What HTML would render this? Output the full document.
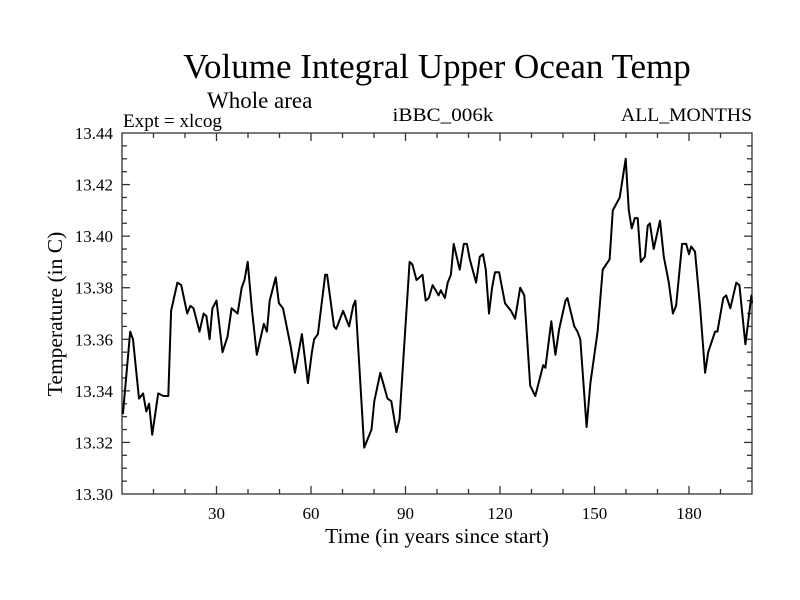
<!DOCTYPE html>
<html><head><meta charset="utf-8"><style>
body{margin:0;background:#fff;}
svg{display:block;font-family:"Liberation Serif",serif;}
</style></head><body>
<svg id="chart" width="800" height="600" viewBox="0 0 800 600" xmlns="http://www.w3.org/2000/svg">
<rect width="800" height="600" fill="#fff"/>
<text x="437" y="78" font-size="35" text-anchor="middle">Volume Integral Upper Ocean Temp</text>
<text x="207" y="108" font-size="23">Whole area</text>
<text x="123" y="127" font-size="19" textLength="99" lengthAdjust="spacingAndGlyphs">Expt = xlcog</text>
<text x="443" y="121" font-size="19" text-anchor="middle" textLength="101" lengthAdjust="spacingAndGlyphs">iBBC_006k</text>
<text x="752" y="121" font-size="19" text-anchor="end" textLength="131" lengthAdjust="spacingAndGlyphs">ALL_MONTHS</text>
<text x="437" y="543" font-size="21.5" text-anchor="middle">Time (in years since start)</text>
<text x="62" y="314" font-size="21.5" text-anchor="middle" transform="rotate(-90 62 314)">Temperature (in C)</text>
<g id="axes"></g>
<path id="series" fill="none" stroke="#000" stroke-width="2" stroke-linejoin="round"/>
</svg>
<script>
const years=[0.3,2.6,3.5,5.4,6.7,7.7,8.6,9.6,11.5,13.1,14.7,15.6,17.6,18.8,20.7,21.7,22.7,24.6,25.9,26.8,27.8,28.7,30.0,31.9,33.5,34.8,36.7,38.0,38.9,39.9,41.2,42.8,45.0,46.0,46.9,48.8,49.8,51.1,53.6,54.9,57.1,59.0,60.3,61.0,62.2,64.5,65.1,67.3,68.0,70.2,72.1,73.4,74.1,76.9,79.2,80.1,82.0,84.3,85.5,87.1,88.1,91.3,92.2,93.5,95.4,96.4,97.4,98.6,100.5,101.2,102.5,103.4,104.4,105.3,107.2,108.5,109.5,110.4,112.4,113.6,114.6,115.5,116.5,117.5,118.4,119.7,121.6,123.5,124.8,126.4,127.7,129.6,131.2,133.7,134.4,136.3,137.6,138.8,140.8,141.4,143.6,144.6,145.5,147.5,148.7,151.0,152.6,154.8,155.8,158.0,159.9,160.9,161.8,162.8,163.7,164.7,166.0,166.9,167.6,168.8,170.8,172.0,173.6,174.9,175.9,177.8,179.1,180.0,180.7,181.9,183.5,185.1,186.1,188.3,189.0,190.9,191.8,193.1,195.0,196.0,197.9,199.8,200.0];
const temps=[13.331,13.363,13.360,13.337,13.339,13.332,13.335,13.323,13.339,13.338,13.338,13.371,13.382,13.381,13.370,13.373,13.372,13.363,13.370,13.369,13.360,13.372,13.375,13.355,13.361,13.372,13.370,13.380,13.383,13.390,13.372,13.354,13.366,13.363,13.375,13.384,13.374,13.372,13.357,13.347,13.362,13.343,13.355,13.360,13.362,13.385,13.385,13.365,13.364,13.371,13.365,13.373,13.375,13.318,13.325,13.336,13.347,13.337,13.336,13.324,13.329,13.390,13.389,13.383,13.385,13.375,13.376,13.381,13.377,13.379,13.376,13.382,13.385,13.397,13.387,13.397,13.397,13.391,13.382,13.392,13.393,13.387,13.370,13.380,13.386,13.386,13.374,13.371,13.368,13.380,13.377,13.342,13.338,13.350,13.349,13.367,13.354,13.364,13.375,13.376,13.365,13.363,13.360,13.326,13.343,13.363,13.387,13.391,13.410,13.415,13.430,13.410,13.403,13.407,13.407,13.390,13.392,13.404,13.405,13.395,13.406,13.392,13.382,13.370,13.373,13.397,13.397,13.393,13.396,13.394,13.373,13.347,13.355,13.363,13.363,13.376,13.377,13.372,13.382,13.381,13.358,13.377,13.374];
const xTickLabels=[30,60,90,120,150,180];
const yTickLabels=[13.30,13.32,13.34,13.36,13.38,13.40,13.42,13.44];

const X0=122,X1=752,Y0=494,Y1=133,XMIN=0,XMAX=200,YMIN=13.30,YMAX=13.44;
function xs(v){return X0+(v-XMIN)/(XMAX-XMIN)*(X1-X0);}
function ys(v){return Y0-(v-YMIN)/(YMAX-YMIN)*(Y0-Y1);}
const NS="http://www.w3.org/2000/svg";
const axes=document.getElementById('axes');
function ln(x1,y1,x2,y2,name){
  const l=document.createElementNS(NS,'line');
  l.setAttribute('x1',x1);l.setAttribute('y1',y1);l.setAttribute('x2',x2);l.setAttribute('y2',y2);
  l.setAttribute('stroke','#333');l.setAttribute('stroke-width','1.3');
  
  
  axes.appendChild(l);
}
const frame=document.createElementNS(NS,'rect');
frame.setAttribute('x',X0);frame.setAttribute('y',Y1);frame.setAttribute('width',X1-X0);frame.setAttribute('height',Y0-Y1);
frame.setAttribute('fill','none');frame.setAttribute('stroke','#333');frame.setAttribute('stroke-width','1.3');


axes.appendChild(frame);
for(let t=10;t<XMAX;t+=10){
  const major=t%30===0, len=major?8:5, x=xs(t);
  ln(x,Y0,x,Y0-len,'x-tick');
  ln(x,Y1,x,Y1+len,'x-tick-top');
}
for(let i=1;i<28;i++){
  const v=YMIN+i*0.005, major=i%4===0, len=major?8:5, y=ys(v);
  ln(X0,y,X0+len,y,'y-tick');
  ln(X1,y,X1-len,y,'y-tick-right');
}
xTickLabels.forEach(t=>{
  const tx=document.createElementNS(NS,'text');
  tx.setAttribute('x',xs(t));tx.setAttribute('y',Y0+25);tx.setAttribute('font-size','17');tx.setAttribute('text-anchor','middle');
  tx.textContent=t;
  
  
  axes.appendChild(tx);
});
yTickLabels.forEach(v=>{
  const tx=document.createElementNS(NS,'text');
  tx.setAttribute('x',X0-9);tx.setAttribute('y',ys(v)+6);tx.setAttribute('font-size','17');tx.setAttribute('text-anchor','end');
  tx.textContent=v.toFixed(2);
  
  
  axes.appendChild(tx);
});
let d='';
years.forEach((yr,i)=>{d+=(i?'L':'M')+xs(yr).toFixed(1)+','+ys(temps[i]).toFixed(1);});
document.getElementById('series').setAttribute('d',d);
</script>
</body></html>
